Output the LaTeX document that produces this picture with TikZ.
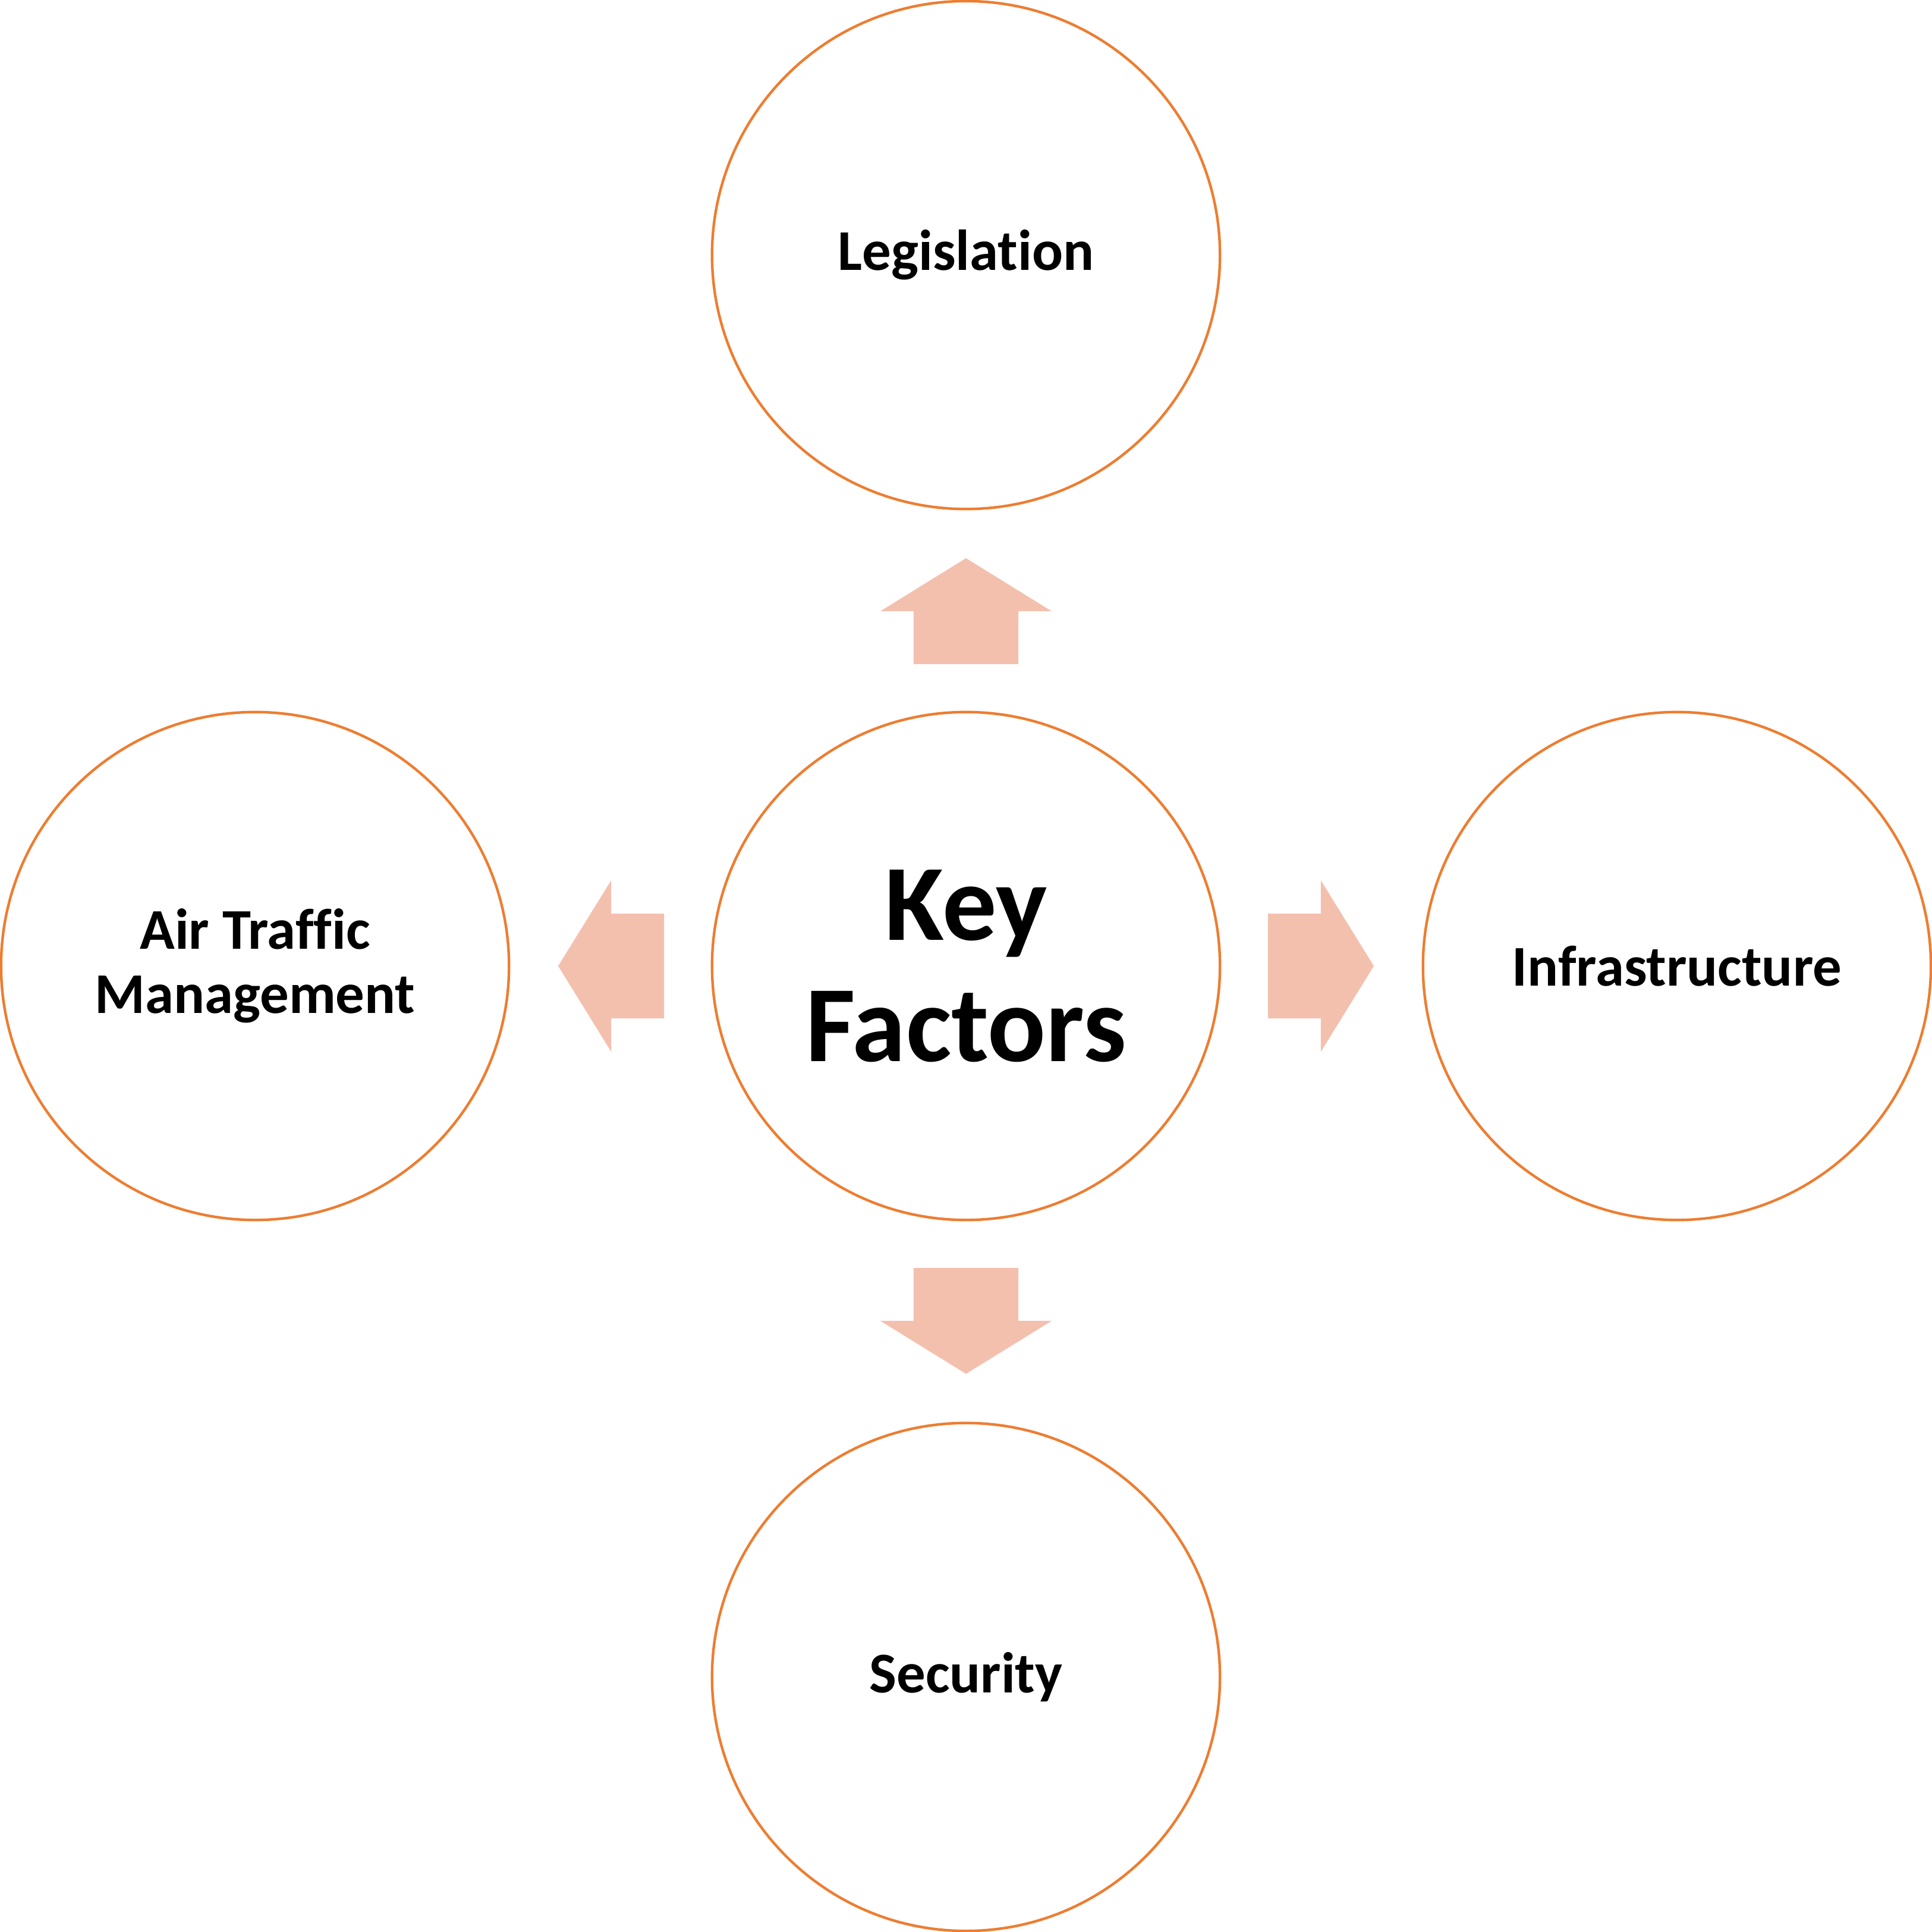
\documentclass[tikz,border=0pt]{standalone}
\usepackage{fontspec}
\setmainfont{Carlito}[Ligatures=NoCommon]
\usepackage{xcolor}
\usetikzlibrary{positioning}
\definecolor{ringorange}{HTML}{ED7D31}
\definecolor{arrowpink}{HTML}{F4C0AE}
\tikzset{
    factor/.style = {circle, draw=ringorange, line width=0.6pt, align=center, minimum size=4.12cm, inner sep=0pt, font=\bfseries\fontsize{13.3}{14.8}\selectfont},
    keynode/.style = {factor, font=\bfseries\fontsize{25}{28}\selectfont},
    blockarrow/.style = {fill=arrowpink, draw=none},
}
\begin{document}
\begin{tikzpicture}[x=0.01cm, y=-0.01cm]
\useasboundingbox (0,0) rectangle (1568,1568);
\node[keynode] at (784,784) (key) {Key\\Factors};
\node[factor] at (784,207) (leg) {Legislation};
\node[factor] at (207,784) (atm) {Air Traffic\\Management};
\node[factor] at (1361,784) (inf) {Infrastructure};
\node[factor] at (784,1361) (sec) {Security};
%
\foreach \ang in {0,90,180,270}
    \fill[blockarrow, shift={(key.center)}, rotate=\ang]
        (245,-42.5) -- (288,-42.5) -- (288,-69.5) -- (331,0)
        -- (288,69.5) -- (288,42.5) -- (245,42.5) -- cycle;
\end{tikzpicture}
\end{document}
